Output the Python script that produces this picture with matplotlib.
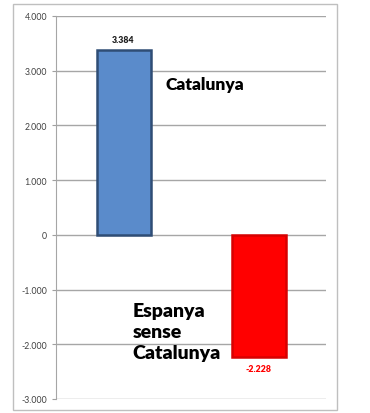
#!/usr/bin/env python3
"""Balance bars: Catalunya vs Espanya sense Catalunya."""

import matplotlib

matplotlib.use("Agg")

import matplotlib.pyplot as plt
from matplotlib.patches import Rectangle
from matplotlib.ticker import FuncFormatter

CATEGORIES = ["Catalunya", "Espanya\nsense\nCatalunya"]
VALUES = [3384, -2228]
VALUE_LABELS = ["3.384", "-2.228"]
BAR_COLORS = ["#5A8BCB", "#FF0000"]
EDGE_COLORS = ["#2F4D75", "#D80000"]
LABEL_COLORS = ["#1F1F1F", "#FF0000"]
Y_TICKS = [-3000, -2000, -1000, 0, 1000, 2000, 3000, 4000]


def thousands(v, _pos=None):
    if v == 0:
        return "0"
    return f"{v:,.0f}".replace(",", ".")


def main():
    plt.rcParams["font.family"] = ["Lato", "DejaVu Sans"]
    fig = plt.figure(figsize=(3.7, 4.14), dpi=100)
    fig.patches.append(
        Rectangle((13 / 370, 1 - 411 / 414), 324 / 370, 406 / 414,
                  transform=fig.transFigure, fill=False,
                  edgecolor="#BFBFBF", linewidth=1.0)
    )
    ax = fig.add_axes([56 / 370, 1 - 400 / 414, 270 / 370, 383 / 414])

    x = list(range(len(VALUES)))
    ax.bar(x, VALUES, width=0.4, color=BAR_COLORS, edgecolor=EDGE_COLORS,
           linewidth=1.8, zorder=3)

    ax.set_xlim(-0.5, 1.5)
    ax.set_ylim(-3000, 4000)
    ax.set_yticks(Y_TICKS)
    ax.yaxis.set_major_formatter(FuncFormatter(thousands))
    ax.tick_params(axis="y", labelsize=6.3, colors="#A0A0A0", labelcolor="#404040",
                   length=3, width=0.8, pad=3.5)
    ax.set_xticks([])
    ax.grid(axis="y", color="#A6A6A6", linewidth=1.0, zorder=0)
    for side in ("top", "right", "bottom"):
        ax.spines[side].set_visible(False)
    ax.spines["left"].set_color("#A6A6A6")

    # value labels
    ax.text(x[0], VALUES[0] + 190, VALUE_LABELS[0], ha="center", va="center",
            fontsize=6.3, fontweight="heavy", color=LABEL_COLORS[0])
    ax.text(x[1], VALUES[1] - 220, VALUE_LABELS[1], ha="center", va="center",
            fontsize=6.3, fontweight="heavy", color=LABEL_COLORS[1])

    # category labels
    ax.text(x[0] + 0.31, 2750, CATEGORIES[0], ha="left", va="center",
            fontsize=12.5, fontweight="heavy", color="black")
    ax.text(x[1] - 0.935, -1770, CATEGORIES[1], ha="left", va="center",
            fontsize=14, fontweight="heavy", color="black", linespacing=1.3)

    fig.savefig("out.png", dpi=100)
    plt.close(fig)


if __name__ == "__main__":
    main()
